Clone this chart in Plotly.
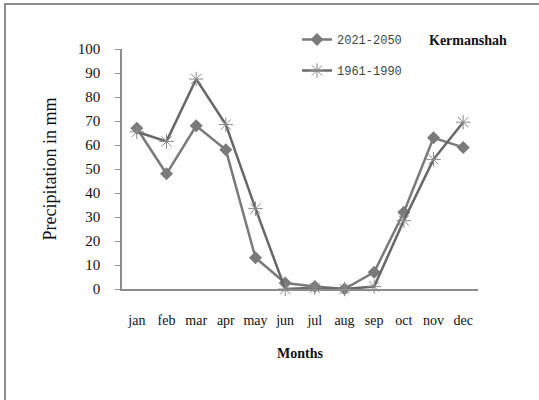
import plotly.graph_objects as go

months = ["jan", "feb", "mar", "apr", "may", "jun", "jul", "aug", "sep", "oct", "nov", "dec"]
future_2021_2050 = [67, 48, 68, 58, 13, 2.5, 1, 0, 7, 32, 63, 59]
base_1961_1990 = [65.5, 61.5, 87.5, 68.5, 33.5, 0, 0.5, 0, 1, 28.5, 54, 69.5]
station = "Kermanshah"

serif = "Liberation Serif"

fig = go.Figure()
fig.add_trace(go.Scatter(
    x=months, y=future_2021_2050, name="2021-2050",
    mode="lines+markers", legendgroup="a",
    line=dict(color="#7a7a7a", width=2.5),
    marker=dict(symbol="diamond", size=10, color="#7a7a7a"),
    cliponaxis=False,
))
fig.add_trace(go.Scatter(
    x=months, y=base_1961_1990, name="1961-1990",
    mode="lines+markers", legendgroup="b",
    line=dict(color="#686868", width=2.5),
    marker=dict(symbol="asterisk-open", size=12, color="#8a8a8a",
                line=dict(color="#8a8a8a", width=1)),
    cliponaxis=False,
))

# outer frame (only top and left edges are visible in the source)
fig.add_shape(type="rect", xref="paper", yref="paper",
              x0=(5 - 122) / 356, x1=1.3, y0=-0.6, y1=(289 - 4) / 240,
              line=dict(color="#8c8c8c", width=2), layer="below")

fig.add_annotation(text="<b>" + station + "</b>", xref="paper", yref="paper",
                   x=(427 - 122) / 356, y=(289 - 41) / 240,
                   xanchor="left", yanchor="middle", showarrow=False,
                   font=dict(family=serif, size=14, color="#111"))

fig.update_layout(
    width=539, height=400,
    margin=dict(l=122, r=61, t=49, b=111),
    paper_bgcolor="white", plot_bgcolor="white",
    font=dict(family=serif, size=14, color="#222"),
    showlegend=True,
    legend=dict(x=(297 - 122) / 356, y=(289 - 25) / 240, xanchor="left", yanchor="top",
                bgcolor="rgba(0,0,0,0)", tracegroupgap=12,
                font=dict(family="Liberation Mono", size=12, color="#444")),
    xaxis=dict(
        type="category", range=[-0.5, 11.5],
        showline=True, linecolor="#8c8c8c", linewidth=1.5,
        showgrid=False, ticks="", ticklabelstandoff=17,
        tickfont=dict(family=serif, size=14, color="#111"),
        title=dict(text="<b>Months</b>", standoff=22,
                   font=dict(family=serif, size=14, color="#111")),
    ),
    yaxis=dict(
        range=[0, 100], dtick=10,
        showline=True, linecolor="#8c8c8c", linewidth=1.5,
        showgrid=False, zeroline=False, ticks="outside", ticklen=5,
        tickcolor="#8c8c8c", ticklabelstandoff=12,
        tickfont=dict(family=serif, size=15, color="#111"),
        title=dict(text="Precipitation in mm", standoff=16,
                   font=dict(family=serif, size=18, color="#111")),
    ),
)

fig.write_html("out.html", config={"displayModeBar": False},
               post_script="document.body.style.margin='0';")
